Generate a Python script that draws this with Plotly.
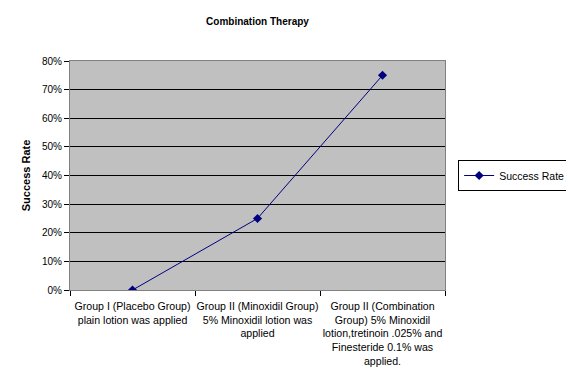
import plotly.graph_objects as go

categories = [
    "Group I (Placebo Group)<br>plain lotion was applied",
    "Group II (Minoxidil Group)<br>5% Minoxidil lotion was<br>applied",
    "Group II (Combination<br>Group) 5% Minoxidil<br>lotion,tretinoin .025% and<br>Finesteride 0.1% was<br>applied.",
]
success_rate = [0.0, 0.25, 0.75]
y_ticks = [0, 0.1, 0.2, 0.3, 0.4, 0.5, 0.6, 0.7, 0.8]
y_tick_labels = ["0%", "10%", "20%", "30%", "40%", "50%", "60%", "70%", "80%"]

font_family = "Liberation Sans, Arial, sans-serif"

fig = go.Figure()
fig.add_trace(go.Scatter(
    x=categories, y=success_rate, mode="lines+markers", name="Success Rate",
    line=dict(color="#000080", width=1),
    marker=dict(symbol="diamond", size=7, color="#000080"),
))

fig.update_layout(
    width=574, height=391,
    margin=dict(l=62, r=132, t=53, b=109),
    paper_bgcolor="white", plot_bgcolor="#C0C0C0",
    font=dict(family=font_family, size=10, color="black"),
    title=dict(text="<b>Combination Therapy</b>", x=0.5, xref="paper", y=1 - 13 / 391, yref="container",
               xanchor="center", yanchor="middle", font=dict(size=10, family=font_family)),
    showlegend=True,
    legend=dict(x=1.035, y=0.5, xanchor="left", yanchor="middle",
                bordercolor="black", borderwidth=1, bgcolor="white",
                font=dict(size=10.5, family=font_family)),
    xaxis=dict(
        type="category", tickson="boundaries", ticks="outside", ticklen=5,
        tickcolor="black", showgrid=False, showline=True, linecolor="#808080",
        mirror=True, tickfont=dict(size=10.6), range=[-0.5, 2.5],
        tickangle=0, automargin=False, ticklabelstandoff=6,
    ),
    yaxis=dict(
        range=[0, 0.8], tickvals=y_ticks, ticktext=y_tick_labels,
        ticks="outside", ticklen=5, tickcolor="black",
        showgrid=True, gridcolor="black", gridwidth=1,
        showline=True, linecolor="#808080", mirror=True, zeroline=False,
        title=dict(text="<b>Success Rate</b>", font=dict(size=11), standoff=9),
        tickfont=dict(size=10), automargin=False,
    ),
)

fig.write_html("out.html")
